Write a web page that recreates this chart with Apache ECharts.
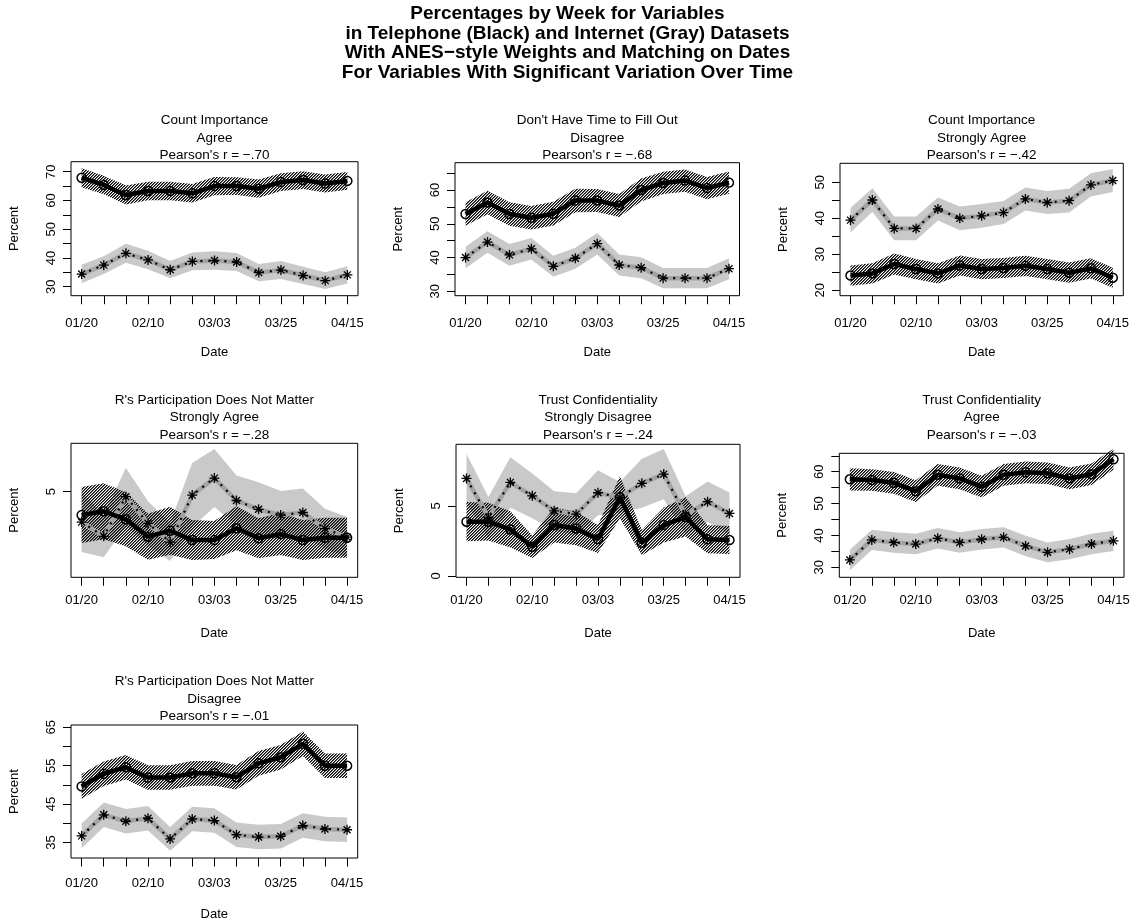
<!DOCTYPE html>
<html>
<head>
<meta charset="utf-8">
<title>Percentages by Week</title>
<script src="https://cdn.jsdelivr.net/npm/echarts@6/dist/echarts.min.js"></script>
<style>
  html, body { margin: 0; padding: 0; background: #fff; }
  #chart { width: 1135px; height: 922px; }
</style>
</head>
<body>
<div id="chart"></div>
<script>
// weeks on the x axis, only every third one gets a label
var weeks = ['01/20', '01/27', '02/03', '02/10', '02/17', '02/24', '03/03', '03/10', '03/17', '03/25', '04/01', '04/08', '04/15']
var weekLabelIdx = [0, 3, 6, 9, 12]

// panel 1 - Count Importance / Agree
var p1Tel = [67.9, 65.4, 61.9, 63.3, 63.3, 62.5, 65.0, 65.0, 64.1, 66.4, 67.1, 65.9, 66.8]
var p1TelCi = [3.3, 3.2, 3.3, 3.2, 3.2, 3.2, 3.2, 3.1, 3.2, 3.1, 3.1, 3.1, 3.1]
var p1Web = [34.4, 37.5, 41.6, 39.3, 35.9, 38.8, 39.1, 38.6, 34.9, 35.8, 33.9, 32.1, 34.1]
var p1WebCi = [3.2, 3.1, 3.3, 3.2, 3.0, 3.1, 3.2, 3.1, 3.0, 3.1, 3.0, 2.9, 3.0]

// panel 2 - Don't Have Time to Fill Out / Disagree
var p2Tel = [52.9, 56.3, 52.9, 51.8, 53.0, 56.9, 56.9, 55.4, 60.0, 62.1, 62.8, 60.6, 62.2]
var p2TelCi = [3.5, 3.5, 3.5, 3.5, 3.5, 3.5, 3.4, 3.4, 3.4, 3.3, 3.3, 3.3, 3.3]
var p2Web = [40.0, 44.6, 40.8, 42.6, 37.4, 39.8, 44.1, 37.8, 37.0, 33.9, 33.9, 33.9, 36.7]
var p2WebCi = [3.2, 3.2, 3.2, 3.2, 3.1, 3.1, 3.2, 3.1, 3.1, 3.0, 3.0, 3.0, 3.1]

// panel 3 - Count Importance / Strongly Agree
var p3Tel = [24.1, 24.7, 27.3, 25.9, 24.7, 26.9, 25.9, 26.2, 26.8, 25.9, 24.9, 26.1, 23.5]
var p3TelCi = [2.8, 2.8, 2.9, 2.8, 2.8, 2.8, 2.8, 2.8, 2.8, 2.8, 2.8, 2.8, 2.8]
var p3Web = [39.5, 45.1, 37.2, 37.2, 42.6, 40.0, 40.7, 41.6, 45.4, 44.4, 44.9, 49.3, 50.5]
var p3WebCi = [3.4, 3.3, 3.3, 3.3, 3.2, 3.3, 3.3, 3.2, 3.2, 3.2, 3.3, 3.2, 3.2]

// panel 4 - R's Participation Does Not Matter / Strongly Agree
var p4Tel = [3.83, 4.02, 3.62, 2.75, 3.05, 2.58, 2.58, 3.17, 2.67, 2.88, 2.58, 2.70, 2.70]
var p4TelCi = [1.4, 1.4, 1.35, 1.15, 1.2, 1.0, 0.95, 1.1, 1.0, 1.05, 1.0, 1.0, 1.0]
var p4Web = [3.48, 2.77, 4.75, 3.42, 2.48, 4.83, 5.68, 4.56, 4.12, 3.83, 3.96, 3.15, 2.73]
var p4WebCi = [1.5, 1.05, 1.45, 1.1, 0.95, 1.6, 1.45, 1.25, 1.35, 1.2, 1.2, 1.0, 1.0]

// panel 5 - Trust Confidentiality / Strongly Disagree
var p5Tel = [3.86, 3.86, 3.31, 2.07, 3.62, 3.38, 2.62, 5.6, 2.36, 3.62, 4.2, 2.6, 2.55]
var p5TelCi = [1.4, 1.35, 1.3, 0.8, 1.25, 1.2, 1.0, 1.5, 0.9, 1.25, 1.4, 1.0, 1.0]
var p5Web = [6.95, 4.17, 6.67, 5.71, 4.64, 4.4, 5.93, 5.6, 6.6, 7.26, 4.33, 5.29, 4.45]
var p5WebCi = [1.75, 1.45, 1.8, 1.6, 1.4, 1.5, 1.6, 1.1, 1.75, 1.8, 1.35, 1.45, 1.5]

// panel 6 - Trust Confidentiality / Agree
var p6Tel = [57.6, 57.4, 56.5, 53.9, 59.0, 57.9, 55.3, 59.0, 59.8, 59.5, 57.9, 59.2, 63.9]
var p6TelCi = [3.5, 3.4, 3.4, 3.4, 3.4, 3.4, 3.4, 3.4, 3.4, 3.4, 3.4, 3.4, 3.3]
var p6Web = [32.3, 38.6, 37.8, 37.3, 39.1, 37.8, 38.8, 39.4, 36.7, 34.7, 35.7, 37.3, 38.3]
var p6WebCi = [3.2, 3.2, 3.2, 3.2, 3.2, 3.2, 3.2, 3.2, 3.2, 3.1, 3.2, 3.2, 3.2]

// panel 7 - R's Participation Does Not Matter / Disagree
var p7Tel = [49.6, 52.9, 54.6, 51.9, 51.9, 53.0, 53.0, 52.0, 55.6, 57.2, 60.7, 55.0, 55.0]
var p7TelCi = [3.2, 3.2, 3.2, 3.2, 3.2, 3.2, 3.2, 3.2, 3.2, 3.2, 3.2, 3.2, 3.2]
var p7Web = [36.7, 42.2, 40.5, 41.3, 35.9, 41.1, 40.7, 37.0, 36.4, 36.6, 39.4, 38.5, 38.3]
var p7WebCi = [3.2, 3.2, 3.2, 3.2, 3.1, 3.2, 3.2, 3.2, 3.2, 3.2, 3.2, 3.2, 3.2]

var panelTitles = [
  "Count Importance\nAgree\nPearson's r = \u2212.70",
  "Don't Have Time to Fill Out\nDisagree\nPearson's r = \u2212.68",
  "Count Importance\nStrongly Agree\nPearson's r = \u2212.42",
  "R's Participation Does Not Matter\nStrongly Agree\nPearson's r = \u2212.28",
  "Trust Confidentiality\nStrongly Disagree\nPearson's r = \u2212.24",
  "Trust Confidentiality\nAgree\nPearson's r = \u2212.03",
  "R's Participation Does Not Matter\nDisagree\nPearson's r = \u2212.01",
]
// y ticks and the subset that carries a label
var yTicks = [
  [30, 35, 40, 45, 50, 55, 60, 65, 70],
  [30, 35, 40, 45, 50, 55, 60, 65],
  [20, 25, 30, 35, 40, 45, 50],
  [5],
  [0, 5],
  [30, 35, 40, 45, 50, 55, 60, 65],
  [35, 40, 45, 50, 55, 60, 65],
]
var yTickLabels = [
  [30, 40, 50, 60, 70],
  [30, 40, 50, 60],
  [20, 30, 40, 50],
  [5],
  [0, 5],
  [30, 40, 50, 60],
  [35, 45, 55, 65],
]
var yRanges = [[26.87, 73.48], [28.7, 68.1], [18.5, 55.3], [0.72, 7.42], [-0.11, 9.39], [26.86, 65.77], [30.94, 65.6]]

var panelData = [
  [p1Tel, p1TelCi, p1Web, p1WebCi],
  [p2Tel, p2TelCi, p2Web, p2WebCi],
  [p3Tel, p3TelCi, p3Web, p3WebCi],
  [p4Tel, p4TelCi, p4Web, p4WebCi],
  [p5Tel, p5TelCi, p5Web, p5WebCi],
  [p6Tel, p6TelCi, p6Web, p6WebCi],
  [p7Tel, p7TelCi, p7Web, p7WebCi],
]

// plot boxes: left, top, width, height (px)
var boxes = [
  [71, 161.7, 287, 134],
  [455, 162.7, 284.5, 133],
  [840, 163.3, 283.3, 132.4],
  [71, 443.3, 286.7, 134],
  [456, 444.3, 284, 133],
  [839.3, 453.3, 284.7, 124],
  [71, 725, 286.7, 133.3],
]
var titleTops = [112, 112, 112, 391.5, 391.5, 391.5, 673]
var xLabelMargin = [21, 21, 21, 17, 17, 17, 19]

var FONT = "'Liberation Sans', Arial, Helvetica, sans-serif"
var ASTERISK = 'path://M0 8.7L20 8.7L20 11.3L0 11.3Z M8.7 0L11.3 0L11.3 20L8.7 20Z M3.92 2.08L17.92 16.08L16.08 17.92L2.08 3.92Z M16.08 2.08L17.92 3.92L3.92 17.92L2.08 16.08Z'

// diagonal hatching like R's density polygons ("/" direction)
function makeHatch() {
  var n = 6
  var c = document.createElement('canvas')
  c.width = n
  c.height = n
  var ctx = c.getContext('2d')
  var img = ctx.createImageData(n, n)
  for (var y = 0; y < n; y++) {
    for (var x = 0; x < n; x++) {
      var k = (y * n + x) * 4
      var m = (x + y) % 3
      if (m === 0) img.data[k + 3] = 255
      else if (m === 1) img.data[k + 3] = 150
    }
  }
  ctx.putImageData(img, 0, 0)
  return c
}
var hatch = { image: makeHatch(), repeat: 'repeat' }

function pairs(vals) {
  return vals.map(function (v, i) { return [i, v] })
}

function band(k, vals, ci, fill) {
  var lo = vals.map(function (v, i) { return v - ci[i] })
  var hi = vals.map(function (v, i) { return v + ci[i] })
  return {
    type: 'custom',
    xAxisIndex: k,
    yAxisIndex: k,
    silent: true,
    z: 1,
    data: [[0, vals[0]]],
    renderItem: function (params, api) {
      var pts = []
      for (var i = 0; i < hi.length; i++) pts.push(api.coord([i, hi[i]]))
      for (var j = lo.length - 1; j >= 0; j--) pts.push(api.coord([j, lo[j]]))
      return { type: 'polygon', shape: { points: pts }, style: { fill: fill, stroke: null } }
    },
  }
}

var grids = [], xAxes = [], yAxes = [], series = []
var titles = [
  {
    text: 'Percentages by Week for Variables\nin Telephone (Black) and Internet (Gray) Datasets\nWith ANES\u2212style Weights and Matching on Dates\nFor Variables With Significant Variation Over Time',
    left: 'center',
    top: 4,
    padding: 0,
    textStyle: { fontFamily: FONT, fontSize: 19, fontWeight: 'bold', color: '#000', lineHeight: 19.7, align: 'center' },
  },
]

for (var k = 0; k < boxes.length; k++) {
  var b = boxes[k]
  grids.push({ left: b[0], top: b[1], width: b[2], height: b[3], show: true, borderColor: '#000', borderWidth: 1, backgroundColor: 'transparent' })
  titles.push({
    text: panelTitles[k],
    left: b[0] + b[2] / 2,
    top: titleTops[k],
    textAlign: 'center',
    padding: 0,
    textStyle: { fontFamily: FONT, fontSize: 13.5, fontWeight: 'normal', color: '#000', lineHeight: 17.5, align: 'center' },
  })
  xAxes.push({
    gridIndex: k,
    type: 'value',
    min: -0.48,
    max: 12.48,
    name: 'Date',
    nameLocation: 'middle',
    nameGap: 50,
    nameTextStyle: { fontFamily: FONT, fontSize: 13, color: '#000' },
    splitLine: { show: false },
    axisLine: { show: false, onZero: false },
    axisTick: { show: true, length: 8.5, customValues: weeks.map(function (w, i) { return i }), lineStyle: { color: '#000', width: 1 } },
    axisLabel: {
      customValues: weekLabelIdx,
      margin: xLabelMargin[k],
      fontFamily: FONT,
      fontSize: 13,
      color: '#000',
      formatter: function (v) { return weeks[Math.round(v)] },
    },
  })
  yAxes.push({
    gridIndex: k,
    type: 'value',
    min: yRanges[k][0],
    max: yRanges[k][1],
    name: 'Percent',
    nameLocation: 'middle',
    nameRotate: 90,
    nameGap: 50,
    nameTextStyle: { fontFamily: FONT, fontSize: 13, color: '#000' },
    splitLine: { show: false },
    axisLine: { show: false, onZero: false },
    axisTick: { show: true, length: 8, customValues: yTicks[k], lineStyle: { color: '#000', width: 1 } },
    axisLabel: { customValues: yTickLabels[k], rotate: 90, margin: 13, fontFamily: FONT, fontSize: 13, color: '#000' },
  })

  var d = panelData[k]
  series.push(band(k, d[2], d[3], '#c9c9c9'))
  series.push(band(k, d[0], d[1], hatch))
  // internet: gray ribbon, dotted line, asterisks
  series.push({
    type: 'line', xAxisIndex: k, yAxisIndex: k, z: 2, silent: true,
    data: pairs(d[2]), symbol: 'none',
    lineStyle: { color: '#a3a3a3', width: 4.5 },
  })
  series.push({
    type: 'line', xAxisIndex: k, yAxisIndex: k, z: 3, silent: true,
    data: pairs(d[2]), symbol: ASTERISK, symbolSize: 10,
    itemStyle: { color: '#000' },
    lineStyle: { color: '#000', width: 2.2, type: [2, 6], cap: 'butt' },
  })
  // telephone: thick black line with open circles
  series.push({
    type: 'line', xAxisIndex: k, yAxisIndex: k, z: 4, silent: true,
    data: pairs(d[0]), symbol: 'circle', symbolSize: 9,
    itemStyle: { color: 'rgba(0,0,0,0)', borderColor: '#000', borderWidth: 1.5 },
    lineStyle: { color: '#000', width: 4.5 },
  })
}

var chart = echarts.init(document.getElementById('chart'), null, { renderer: 'canvas' })
chart.setOption({
  animation: false,
  backgroundColor: '#fff',
  title: titles,
  grid: grids,
  xAxis: xAxes,
  yAxis: yAxes,
  series: series,
})
</script>
</body>
</html>
